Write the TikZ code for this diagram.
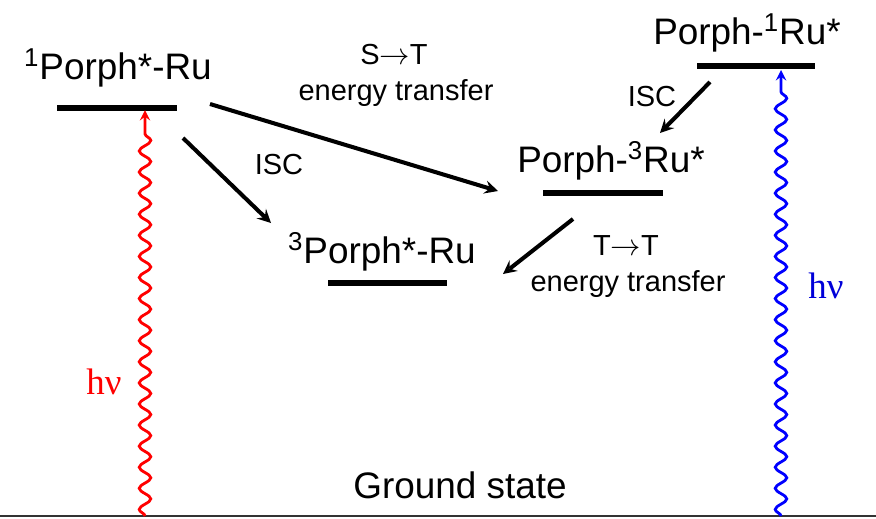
\documentclass[tikz,border=0pt]{standalone}
\usepackage{fontspec}
\setmainfont{Liberation Sans}
\newfontfamily\serifhv{Liberation Serif}
\usetikzlibrary{arrows, decorations.pathmorphing}
\tikzstyle{level} = [line width=3.4pt]
\tikzstyle{state} = [font=\fontsize{21}{25}\selectfont, inner sep=0pt]
\tikzstyle{note} = [font=\fontsize{16.5}{19}\selectfont, inner sep=0pt]
\tikzstyle{arrow} = [line width=2.3pt,->,>=stealth]
\tikzstyle{photon} = [line width=1.6pt,->,>=stealth, decorate, decoration={snake, amplitude=3.3pt, segment length=12pt, post length=8pt}]

\begin{document}
\begin{tikzpicture}[x=0.02cm, y=-0.02cm]
    \useasboundingbox (0,0) rectangle (876,518);
    % Ground state
    \coordinate (g0) at (0,516);
    \coordinate (g1) at (876,516);
    \draw[black!80, line width=0.8pt] (g0) -- (g1);
    \node[state] (ground) at (460,485) {Ground state};

    % Singlet on porphyrin
    \coordinate (s1a) at (57,108);
    \coordinate (s1b) at (177,108);
    \draw[level] (s1a) -- (s1b);
    \node[state] (s1) at (118,68) {\textsuperscript{1}Porph*-Ru};

    % Singlet on Ru
    \coordinate (r1a) at (697,66);
    \coordinate (r1b) at (815,66);
    \draw[level] (r1a) -- (r1b);
    \node[state] (r1) at (747,33) {Porph-\textsuperscript{1}Ru*};

    % Triplet on Ru
    \coordinate (r3a) at (543,193);
    \coordinate (r3b) at (663,193);
    \draw[level] (r3a) -- (r3b);
    \node[state] (r3) at (611,161) {Porph-\textsuperscript{3}Ru*};

    % Triplet on porphyrin
    \coordinate (t1a) at (328,283);
    \coordinate (t1b) at (447,283);
    \draw[level] (t1a) -- (t1b);
    \node[state] (t1) at (382,252) {\textsuperscript{3}Porph*-Ru};

    % Excitation
    \coordinate (redlo) at (145,516);
    \coordinate (redhi) at (145,110);
    \draw[photon, red] (redlo) -- (redhi);
    \node[state, red, font=\serifhv\fontsize{21}{25}\selectfont] (hvred) at (104,382) {hν};

    \coordinate (bluelo) at (781,516);
    \coordinate (bluehi) at (781,70);
    \draw[photon, blue] (bluelo) -- (bluehi);
    \node[state, blue!85!black, font=\serifhv\fontsize{21}{25}\selectfont] (hvblue) at (826,286) {hν};

    % Transfers
    \coordinate (st0) at (210,104);
    \coordinate (st1) at (498,191);
    \draw[arrow] (st0) -- (st1);
    \node[note] (stl) at (394,55) {S$\rightarrow$T};
    \node[note] (ste) at (396,93) {energy transfer};

    \coordinate (isc0) at (183,138);
    \coordinate (isc1) at (271,223);
    \draw[arrow] (isc0) -- (isc1);
    \node[note] (iscl) at (279,165) {ISC};

    \coordinate (isc2) at (710,82);
    \coordinate (isc3) at (660,133);
    \draw[arrow] (isc2) -- (isc3);
    \node[note] (iscr) at (652,97) {ISC};

    \coordinate (tt0) at (573,219);
    \coordinate (tt1) at (503,274);
    \draw[arrow] (tt0) -- (tt1);
    \node[note] (ttl) at (626,246) {T$\rightarrow$T};
    \node[note] (tte) at (628,284) {energy transfer};
\end{tikzpicture}
\end{document}
